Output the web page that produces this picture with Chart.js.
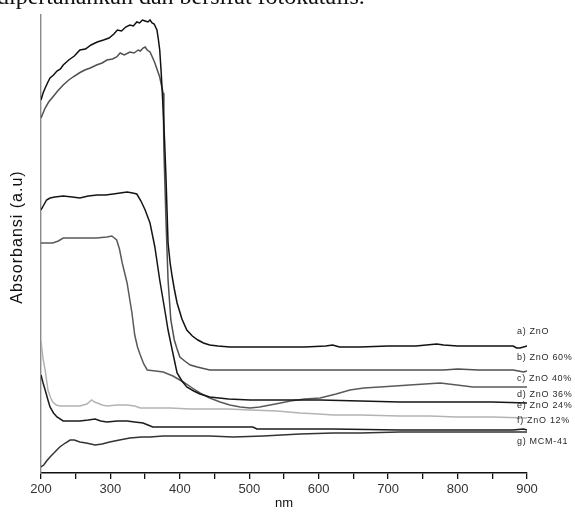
<!DOCTYPE html>
<html>
<head>
<meta charset="utf-8">
<script src="https://cdn.jsdelivr.net/npm/chart.js@4.4.1/dist/chart.umd.min.js"></script>
<style>
  html, body { margin: 0; padding: 0; background: #fff; overflow: hidden; }
  #wrap { position: relative; width: 575px; height: 513px; }
  #chart { position: absolute; left: 0; top: 0; }
  #caption {
    position: absolute; left: -3px; top: -16px; white-space: nowrap;
    font-family: "Liberation Serif", "DejaVu Serif", serif; font-size: 24px; line-height: 24px; color: #111;
  }
</style>
</head>
<body>
<div id="wrap">
  <canvas id="chart" width="575" height="513"></canvas>
  <div id="caption">dipertahankan dan bersifat fotokatalis.</div>
</div>
<script>
// wavelength (nm) and absorbance (a.u) for every spectrum
const aNm  = [200, 203, 206, 210, 213, 218, 223, 228, 232, 240, 248, 256, 264, 272, 281, 290, 298, 305, 310, 316, 322, 328, 333, 338, 342, 346, 350, 354, 357, 360, 363, 367, 369, 371, 373, 376, 378, 380, 383, 386, 389, 392, 396, 403, 410, 418, 426, 434, 443, 455, 472, 500, 540, 580, 610, 620, 630, 660, 700, 740, 770, 780, 800, 840, 880, 885, 890, 900];
const aAbs = [3.71, 3.78, 3.83, 3.89, 3.93, 3.96, 4.00, 4.02, 4.06, 4.11, 4.15, 4.21, 4.22, 4.26, 4.29, 4.31, 4.33, 4.37, 4.41, 4.40, 4.44, 4.46, 4.45, 4.49, 4.48, 4.51, 4.50, 4.49, 4.51, 4.48, 4.47, 4.41, 4.32, 4.21, 4.00, 3.61, 3.30, 2.94, 2.28, 2.08, 1.94, 1.82, 1.68, 1.52, 1.41, 1.35, 1.31, 1.28, 1.26, 1.25, 1.24, 1.24, 1.24, 1.24, 1.25, 1.26, 1.24, 1.24, 1.25, 1.25, 1.27, 1.26, 1.25, 1.25, 1.25, 1.23, 1.23, 1.25];

const bNm  = [200, 203, 206, 211, 217, 224, 232, 240, 246, 255, 263, 271, 280, 288, 295, 303, 309, 314, 320, 328, 334, 340, 343, 347, 350, 353, 357, 361, 364, 368, 371, 374, 376, 377, 380, 383, 387, 392, 396, 400, 407, 415, 425, 443, 470, 520, 600, 700, 780, 800, 830, 860, 880, 895, 900];
const bAbs = [3.53, 3.58, 3.63, 3.69, 3.74, 3.80, 3.86, 3.91, 3.94, 3.98, 4.01, 4.03, 4.06, 4.08, 4.11, 4.12, 4.14, 4.18, 4.16, 4.19, 4.18, 4.21, 4.20, 4.23, 4.24, 4.21, 4.19, 4.13, 4.08, 4.00, 3.94, 3.84, 3.78, 3.21, 2.51, 1.91, 1.51, 1.31, 1.22, 1.14, 1.10, 1.06, 1.04, 1.01, 1.01, 1.01, 1.01, 1.01, 1.01, 1.02, 1.01, 1.01, 1.01, 0.99, 1.00];

const cNm  = [200, 204, 208, 213, 220, 232, 245, 256, 268, 281, 293, 304, 314, 324, 332, 338, 344, 350, 357, 364, 371, 379, 383, 389, 396, 403, 410, 420, 429, 443, 470, 501, 560, 602, 660, 717, 789, 850, 900];
const cAbs = [2.61, 2.66, 2.71, 2.73, 2.74, 2.75, 2.74, 2.73, 2.75, 2.76, 2.76, 2.77, 2.78, 2.79, 2.78, 2.77, 2.70, 2.61, 2.48, 2.24, 1.91, 1.58, 1.41, 1.21, 0.98, 0.90, 0.84, 0.80, 0.77, 0.74, 0.72, 0.71, 0.71, 0.71, 0.70, 0.69, 0.69, 0.69, 0.68];

const dNm  = [200, 210, 217, 225, 232, 256, 280, 295, 302, 309, 313, 317, 324, 331, 335, 339, 343, 348, 353, 365, 376, 390, 405, 418, 429, 443, 458, 472, 487, 501, 515, 530, 545, 559, 580, 602, 625, 645, 665, 688, 710, 731, 753, 775, 799, 822, 860, 900];
const dAbs = [2.28, 2.28, 2.28, 2.30, 2.33, 2.33, 2.33, 2.34, 2.35, 2.31, 2.22, 2.08, 1.88, 1.58, 1.36, 1.24, 1.16, 1.07, 1.01, 1.00, 0.99, 0.95, 0.89, 0.83, 0.78, 0.73, 0.69, 0.66, 0.64, 0.63, 0.64, 0.66, 0.68, 0.70, 0.72, 0.73, 0.77, 0.81, 0.83, 0.84, 0.85, 0.86, 0.87, 0.88, 0.86, 0.84, 0.84, 0.84];

const eNm  = [200, 203, 206, 210, 214, 217, 222, 227, 240, 256, 266, 273, 277, 281, 288, 295, 310, 324, 335, 343, 360, 386, 415, 443, 470, 501, 540, 573, 600, 621, 660, 717, 760, 799, 850, 900];
const eAbs = [1.30, 1.12, 1.01, 0.81, 0.73, 0.69, 0.66, 0.65, 0.65, 0.65, 0.67, 0.71, 0.69, 0.68, 0.66, 0.65, 0.66, 0.66, 0.65, 0.63, 0.63, 0.63, 0.62, 0.62, 0.62, 0.61, 0.60, 0.58, 0.57, 0.56, 0.56, 0.55, 0.55, 0.54, 0.54, 0.53];

const fNm  = [200, 203, 206, 210, 213, 218, 223, 232, 245, 256, 268, 278, 286, 295, 310, 324, 335, 347, 354, 361, 380, 410, 443, 475, 505, 511, 560, 620, 717, 780, 800, 850, 880, 895, 900];
const fAbs = [0.96, 0.88, 0.81, 0.71, 0.64, 0.58, 0.54, 0.50, 0.50, 0.50, 0.51, 0.52, 0.50, 0.49, 0.50, 0.50, 0.49, 0.48, 0.46, 0.44, 0.44, 0.44, 0.44, 0.44, 0.44, 0.42, 0.42, 0.42, 0.41, 0.41, 0.41, 0.41, 0.41, 0.42, 0.41];

const gNm  = [200, 204, 208, 213, 220, 227, 235, 242, 248, 256, 265, 278, 288, 299, 313, 328, 345, 357, 376, 410, 443, 477, 520, 573, 621, 660, 717, 780, 850, 900];
const gAbs = [0.04, 0.06, 0.10, 0.14, 0.19, 0.24, 0.28, 0.31, 0.31, 0.29, 0.28, 0.26, 0.27, 0.29, 0.31, 0.33, 0.34, 0.34, 0.35, 0.35, 0.35, 0.34, 0.35, 0.37, 0.38, 0.38, 0.39, 0.39, 0.39, 0.39];

const seriesNames = ['a) ZnO', 'b) ZnO 60%', 'c) ZnO 40%', 'd) ZnO 36%', 'e) ZnO 24%', 'f) ZnO 12%', 'g) MCM-41'];
// where each name sits at the right end (absorbance units)
const nameLevels = [1.39, 1.13, 0.92, 0.76, 0.65, 0.50, 0.29];

const lineColors = ['#111111', '#505050', '#161616', '#5a5a5a', '#b3b3b3', '#1c1c1c', '#333333'];

function toPoints(xs, ys) {
    return xs.map((x, i) => ({ x: x, y: ys[i] }));
}

const allSeries = [
    toPoints(aNm, aAbs), toPoints(bNm, bAbs), toPoints(cNm, cAbs), toPoints(dNm, dAbs),
    toPoints(eNm, eAbs), toPoints(fNm, fAbs), toPoints(gNm, gAbs)
];

const font = '"Liberation Sans", Arial, sans-serif';

//names to the right of the lines, plus the spaced y title
const sideText = {
    id: 'sideText',
    afterDraw(chart) {
        const ctx = chart.ctx;
        const xs = chart.scales.x;
        const ys = chart.scales.y;
        ctx.save();
        ctx.font = '9px ' + font;
        ctx.letterSpacing = '0.7px';
        ctx.fillStyle = '#2a2a2a';
        ctx.textBaseline = 'middle';
        ctx.textAlign = 'left';
        seriesNames.forEach((name, i) => {
            ctx.fillText(name, xs.getPixelForValue(900) - 10, ys.getPixelForValue(nameLevels[i]));
        });
        ctx.restore();

        ctx.save();
        ctx.translate(18, (chart.chartArea.top + chart.chartArea.bottom) / 2 - 7);
        ctx.rotate(-Math.PI / 2);
        ctx.font = '16px ' + font;
        ctx.letterSpacing = '1px';
        ctx.fillStyle = '#111';
        ctx.textAlign = 'center';
        ctx.textBaseline = 'middle';
        ctx.fillText('Absorbansi (a.u)', 0, 0);
        ctx.restore();
    }
};

new Chart(document.getElementById('chart'), {
    type: 'line',
    data: {
        datasets: allSeries.map((pts, i) => ({
            label: seriesNames[i],
            data: pts,
            borderColor: lineColors[i],
            borderWidth: 1.5,
            pointRadius: 0,
            tension: 0,
            fill: false
        }))
    },
    options: {
        responsive: false,
        animation: false,
        layout: { padding: { top: 15, right: 48, left: 0, bottom: 0 } },
        plugins: { legend: { display: false }, tooltip: { enabled: false } },
        scales: {
            x: {
                type: 'linear',
                min: 200,
                max: 900,
                afterFit(s) { s.height = 40; },
                ticks: {
                    stepSize: 50,
                    autoSkip: false,
                    maxRotation: 0,
                    padding: 3,
                    color: '#333',
                    font: { family: font, size: 13 },
                    callback: v => (v % 100 === 0 ? v : '')
                },
                grid: { drawOnChartArea: false, drawTicks: true, tickLength: 6, color: '#111', lineWidth: 1.3 },
                border: { color: '#111', width: 1.6 },
                title: { display: true, text: 'nm', color: '#111', font: { family: font, size: 13 }, padding: { top: 0, bottom: 2 } }
            },
            y: {
                min: -0.02,
                max: 4.56,
                afterFit(s) { s.width = 41; },
                ticks: { display: false },
                grid: { drawOnChartArea: false, drawTicks: false },
                border: { color: '#8a8a8a', width: 1.4 },
                title: { display: false }
            }
        }
    },
    plugins: [sideText]
});
</script>
</body>
</html>
